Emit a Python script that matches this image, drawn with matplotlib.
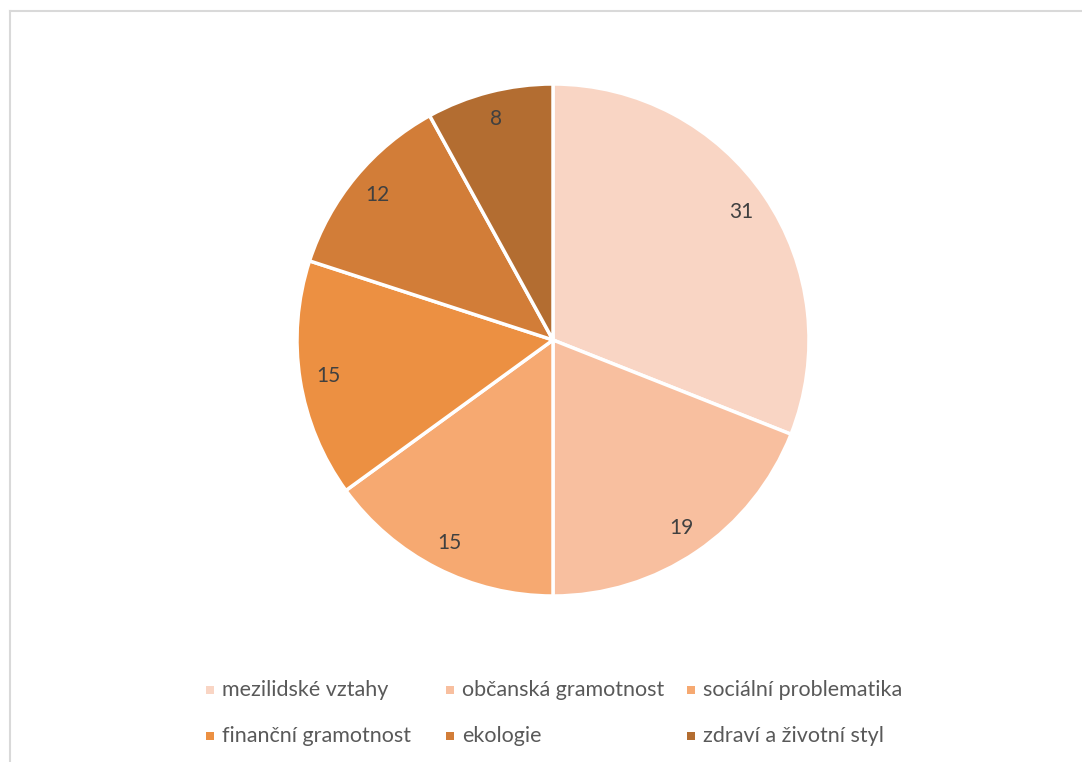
import matplotlib.pyplot as plt
from matplotlib.patches import Rectangle
from matplotlib.lines import Line2D

# data
categories = ['mezilidské vztahy', 'občanská gramotnost', 'sociální problematika',
              'finanční gramotnost', 'ekologie', 'zdraví a životní styl']
values = [31, 19, 15, 15, 12, 8]
colors = ['#F9D5C4', '#F8BF9F', '#F6A971', '#EC9042', '#D27D38', '#B36D31']

plt.rcParams['font.family'] = ['Lato', 'DejaVu Sans']

W, H = 1082, 762
fig = plt.figure(figsize=(W / 100, H / 100), dpi=100)

# chart area border (only top and left visible)
fig.add_artist(Line2D([10 / W, 1.0], [1 - 11 / H, 1 - 11 / H], color='#D9D9D9', lw=1.5))
fig.add_artist(Line2D([10 / W, 10 / W], [0.0, 1 - 11 / H], color='#D9D9D9', lw=1.5))

# pie
cx, cy, r = 553, 340, 256
ax = fig.add_axes([(cx - r) / W, 1 - (cy + r) / H, 2 * r / W, 2 * r / H])
wedges, texts = ax.pie(values, colors=colors, startangle=90, counterclock=False,
                       labels=[str(v) for v in values], labeldistance=0.89,
                       wedgeprops=dict(edgecolor='white', linewidth=2.5),
                       textprops=dict(color='#404040', fontsize=15))
for t in texts:
    t.set_ha('center')
    t.set_va('center')
ax.set_xlim(-1.0, 1.0)
ax.set_ylim(-1.0, 1.0)
ax.set_aspect('auto')
ax.axis('off')

# legend, laid out like the original (two rows, three slots)
marker_x = [206, 446, 687, 206, 446, 687]
row_y = [690, 690, 690, 736, 736, 736]
for name, col, mx, my in zip(categories, colors, marker_x, row_y):
    fig.add_artist(Rectangle((mx / W, 1 - (my + 4) / H), 8 / W, 8 / H,
                             transform=fig.transFigure, facecolor=col, edgecolor='none'))
    fig.text((mx + 16) / W, 1 - my / H, name, ha='left', va='center',
             fontsize=15.5, color='#595959')

fig.savefig('out.png', dpi=100)
